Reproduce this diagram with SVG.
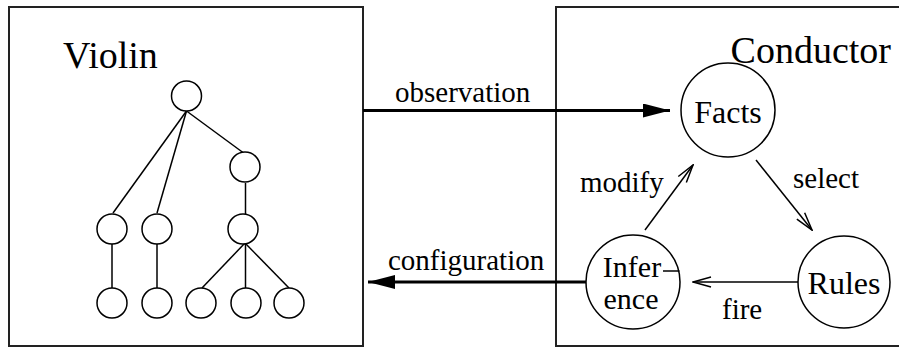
<svg xmlns="http://www.w3.org/2000/svg" width="899" height="347" viewBox="0 0 899 347">
  <style>
    .frame { fill: none; stroke: #222; stroke-width: 2; }
    .node { fill: #fff; stroke: #000; stroke-width: 1.5; }
    .edge { fill: none; stroke: #000; stroke-width: 1.5; }
    .flow { fill: none; stroke: #000; stroke-width: 1.5; marker-end: url(#open); }
    .bus { fill: none; stroke: #000; stroke-width: 3; marker-end: url(#solid); }
    .title { font-family: "Liberation Serif", "Times New Roman", serif; font-size: 38px; fill: #000; }
    .name { font-family: "Liberation Serif", "Times New Roman", serif; font-size: 32px; fill: #000; text-anchor: middle; }
    .split { font-size: 30px; }
    .label { font-family: "Liberation Serif", "Times New Roman", serif; font-size: 29px; fill: #000; }
  </style>
  <defs>
    <marker id="open" viewBox="-1 -6 20 12" refX="18" refY="0" markerWidth="20" markerHeight="12" markerUnits="userSpaceOnUse" orient="auto">
      <path d="M0,-5 L18,0 L0,5" fill="none" stroke="#000" stroke-width="1.5"/>
    </marker>
    <marker id="solid" viewBox="0 -7 27 14" refX="27" refY="0" markerWidth="27" markerHeight="14" markerUnits="userSpaceOnUse" orient="auto">
      <path d="M0,-7 L27,0 L0,7 Z" fill="#000"/>
    </marker>
  </defs>

  <!-- Violin panel -->
  <g id="violin">
    <rect class="frame" x="9" y="7" width="354" height="339"/>
    <text class="title" x="63" y="68">Violin</text>
    <!-- widget tree -->
    <g id="violin-tree-edges">
      <line class="edge" x1="186.5" y1="111" x2="113" y2="213"/>
      <line class="edge" x1="186.5" y1="111" x2="157" y2="213"/>
      <line class="edge" x1="186.5" y1="111" x2="245" y2="154"/>
      <line class="edge" x1="245.5" y1="183" x2="245.5" y2="214"/>
      <line class="edge" x1="112" y1="244" x2="112" y2="288"/>
      <line class="edge" x1="157" y1="244" x2="157" y2="288"/>
      <line class="edge" x1="245" y1="243" x2="202" y2="288"/>
      <line class="edge" x1="245.5" y1="243" x2="245.5" y2="288"/>
      <line class="edge" x1="245" y1="243" x2="289" y2="288"/>
    </g>
    <g id="violin-tree-nodes">
      <circle class="node" cx="186.5" cy="96" r="15"/>
      <circle class="node" cx="245" cy="167" r="15"/>
      <circle class="node" cx="112" cy="229" r="15"/>
      <circle class="node" cx="157" cy="229" r="15"/>
      <circle class="node" cx="243" cy="229" r="15"/>
      <circle class="node" cx="112" cy="303" r="15"/>
      <circle class="node" cx="157" cy="303" r="15"/>
      <circle class="node" cx="201" cy="303" r="15"/>
      <circle class="node" cx="246" cy="303" r="15"/>
      <circle class="node" cx="289" cy="303" r="15"/>
    </g>
  </g>

  <!-- Conductor panel -->
  <g id="conductor">
    <rect class="frame" x="556" y="7" width="360" height="339"/>
    <text class="title" x="891" y="63" text-anchor="end">Conductor</text>
  </g>

  <g id="facts">
    <circle class="node" cx="728" cy="110" r="47"/>
    <text class="name" x="728" y="123">Facts</text>
  </g>

  <g id="rules">
    <circle class="node" cx="844" cy="282" r="46"/>
    <text class="name" x="844" y="294">Rules</text>
  </g>

  <g id="inference">
    <circle class="node" cx="633" cy="282" r="47"/>
    <text class="name split" x="632" y="277">Infer</text>
    <line class="edge" x1="663" y1="271" x2="679.5" y2="271"/>
    <text class="name split" x="631" y="309">ence</text>
  </g>

  <!-- connectors -->
  <g id="connectors">
    <line class="bus" x1="363" y1="110.5" x2="670" y2="110.5"/>
    <text class="label" x="395" y="102">observation</text>

    <line class="bus" x1="586" y1="282" x2="368" y2="282"/>
    <text class="label" x="388" y="270">configuration</text>

    <line class="flow" x1="756" y1="160" x2="812" y2="230"/>
    <text class="label" x="793" y="188">select</text>

    <line class="flow" x1="798" y1="282" x2="693" y2="282"/>
    <text class="label" x="722" y="319">fire</text>

    <line class="flow" x1="645" y1="230" x2="693" y2="165"/>
    <text class="label" x="580" y="192">modify</text>
  </g>
</svg>
